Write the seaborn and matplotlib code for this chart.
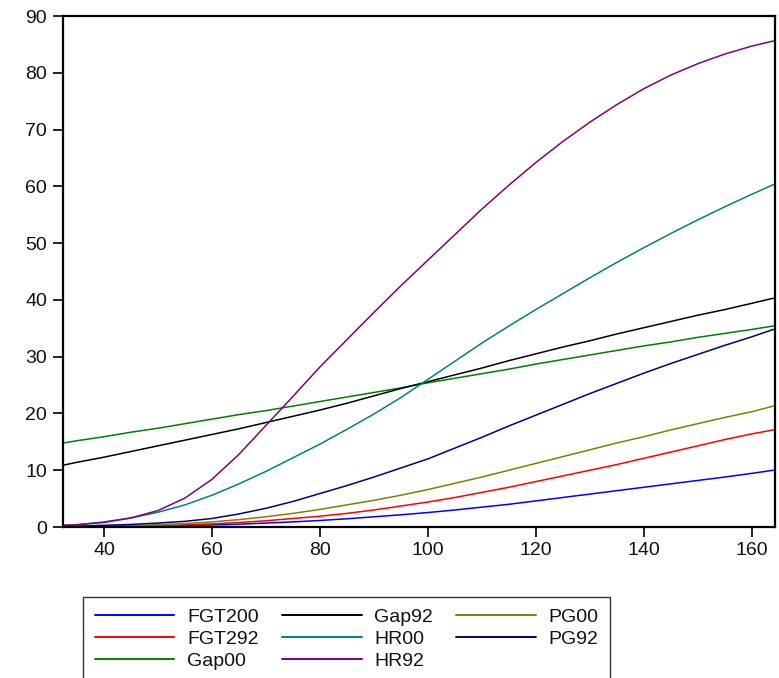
import numpy as np
import pandas as pd
import matplotlib
matplotlib.use("Agg")
import matplotlib.pyplot as plt
import seaborn as sns

# ---- data ----
x = [32.5, 35, 40, 45, 50, 55, 60, 65, 70, 75, 80, 85, 90, 95, 100,
     105, 110, 115, 120, 125, 130, 135, 140, 145, 150, 155, 160, 164]

FGT200 = [0.01, 0.02, 0.05, 0.09, 0.15, 0.24, 0.35, 0.5, 0.7, 0.9, 1.15, 1.45, 1.8, 2.15, 2.55,
          3.0, 3.5, 4.0, 4.6, 5.2, 5.8, 6.4, 7.0, 7.6, 8.2, 8.8, 9.45, 10.0]
FGT292 = [0.02, 0.03, 0.08, 0.15, 0.25, 0.38, 0.55, 0.8, 1.1, 1.5, 1.9, 2.4, 3.0, 3.7, 4.4,
          5.2, 6.1, 7.0, 8.0, 9.0, 10.0, 11.0, 12.1, 13.2, 14.3, 15.4, 16.4, 17.1]
Gap00 = [14.8, 15.2, 15.9, 16.7, 17.4, 18.2, 19.0, 19.8, 20.5, 21.3, 22.1, 22.9, 23.7, 24.5, 25.4,
         26.2, 27.0, 27.8, 28.7, 29.5, 30.3, 31.1, 31.9, 32.6, 33.4, 34.1, 34.8, 35.4]
Gap92 = [10.9, 11.4, 12.3, 13.3, 14.3, 15.3, 16.3, 17.3, 18.4, 19.5, 20.6, 21.8, 23.1, 24.4, 25.6,
         26.8, 28.0, 29.3, 30.5, 31.7, 32.8, 34.0, 35.1, 36.2, 37.3, 38.3, 39.4, 40.3]
HR00 = [0.3, 0.4, 0.9, 1.6, 2.6, 3.9, 5.6, 7.6, 9.8, 12.2, 14.6, 17.2, 19.9, 22.8, 26.0,
        29.2, 32.4, 35.4, 38.3, 41.1, 43.9, 46.6, 49.2, 51.7, 54.1, 56.4, 58.6, 60.3]
HR92 = [0.3, 0.4, 0.8, 1.6, 2.9, 5.1, 8.4, 12.8, 17.9, 23.0, 28.2, 33.0, 37.8, 42.5, 47.0,
        51.5, 56.0, 60.2, 64.2, 67.9, 71.3, 74.4, 77.2, 79.6, 81.6, 83.3, 84.7, 85.6]
PG00 = [0.05, 0.07, 0.15, 0.25, 0.4, 0.6, 0.9, 1.3, 1.8, 2.4, 3.1, 3.9, 4.7, 5.6, 6.6,
        7.7, 8.8, 10.0, 11.2, 12.4, 13.6, 14.8, 15.9, 17.1, 18.2, 19.3, 20.3, 21.3]
PG92 = [0.1, 0.15, 0.3, 0.45, 0.7, 1.0, 1.5, 2.3, 3.3, 4.5, 5.9, 7.3, 8.8, 10.4, 12.0,
        13.9, 15.8, 17.8, 19.7, 21.6, 23.5, 25.3, 27.1, 28.8, 30.4, 32.0, 33.5, 34.8]

series_names = ["FGT200", "FGT292", "Gap00", "Gap92", "HR00", "HR92", "PG00", "PG92"]
series_values = [FGT200, FGT292, Gap00, Gap92, HR00, HR92, PG00, PG92]
colors = ["#0000ff", "#ff0000", "#008000", "#000000", "#008080", "#800080", "#808000", "#000080"]

x_ticks = [40, 60, 80, 100, 120, 140, 160]
y_ticks = [0, 10, 20, 30, 40, 50, 60, 70, 80, 90]

# ---- build long table ----
frames = []
for name, vals in zip(series_names, series_values):
    frames.append(pd.DataFrame({"x": x, "value": vals, "series": name}))
df = pd.concat(frames, ignore_index=True)

sns.set_theme(style="ticks")
plt.rcParams["font.family"] = ["Liberation Sans", "DejaVu Sans"]

fig = plt.figure(figsize=(7.79, 6.78), dpi=100)
ax = fig.add_axes([0.0809, 0.2227, 0.914, 0.7537])

sns.lineplot(data=df, x="x", y="value", hue="series", hue_order=series_names,
             palette=dict(zip(series_names, colors)), linewidth=1.1, ax=ax,
             estimator=None, sort=False)

ax.set_xlim(32.4, 164.3)
ax.set_ylim(0, 90)
ax.set_xticks(x_ticks)
ax.set_yticks(y_ticks)
ax.set_xlabel("")
ax.set_ylabel("")
for s in ax.spines.values():
    s.set_visible(True)
    s.set_color("black")
    s.set_linewidth(1.6)
ax.tick_params(axis="both", direction="out", length=7, width=1.2,
               labelsize=14, colors="black", top=False, right=False)
ax.tick_params(axis="x", pad=3.5)
ax.tick_params(axis="y", pad=4.5)
for lbl in ax.get_xticklabels() + ax.get_yticklabels():
    lbl.set_color("#111111")

ax.get_legend().remove()
handles, labels = ax.get_legend_handles_labels()
leg = fig.legend(handles, labels, ncol=3, loc="upper left",
                 bbox_to_anchor=(83 / 779, 1 - 597 / 678), bbox_transform=fig.transFigure,
                 borderaxespad=0, frameon=True, fancybox=False, fontsize=14,
                 handlelength=4.1, handletextpad=0.65, columnspacing=1.2,
                 labelspacing=0.21, borderpad=0.6)
leg.get_frame().set_edgecolor("black")
leg.get_frame().set_linewidth(1.0)
for line in leg.get_lines():
    line.set_linewidth(1.4)
for t in leg.get_texts():
    t.set_color("#111111")

fig.savefig("out.png", dpi=100)
